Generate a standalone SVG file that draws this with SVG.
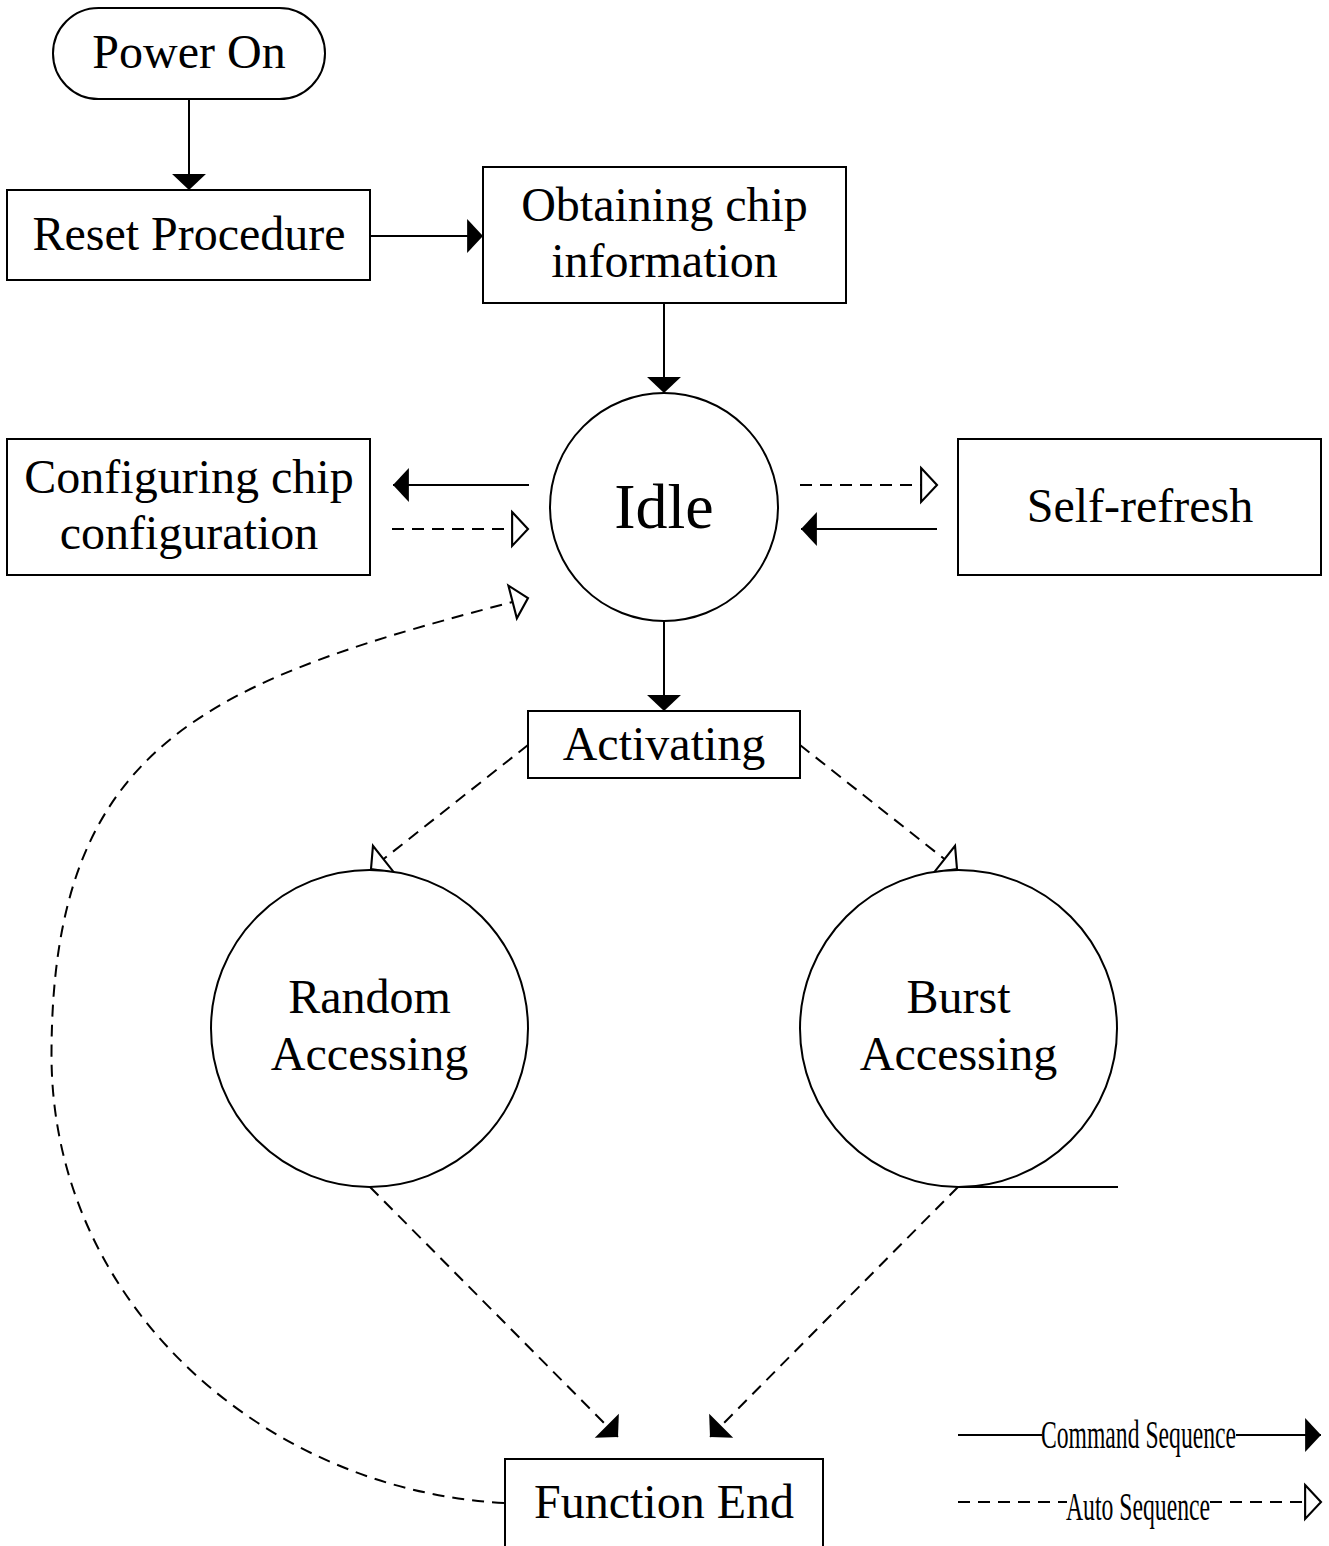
<svg xmlns="http://www.w3.org/2000/svg" width="1329" height="1546" viewBox="0 0 1329 1546">
  <style>
    .box { fill: #fff; stroke: #000; stroke-width: 2; }
    .lbl { font-family: "Liberation Serif", "Times New Roman", serif; font-size: 48px; fill: #000; text-anchor: middle; }
    .big { font-size: 64px; }
    .leg { font-family: "Liberation Serif", "Times New Roman", serif; font-size: 40px; fill: #000; }
    .cmd { fill: none; stroke: #000; stroke-width: 2; marker-end: url(#cmdHead); }
    .auto { fill: none; stroke: #000; stroke-width: 2; stroke-dasharray: 12 8; marker-end: url(#autoHead); }
    .autoCmd { fill: none; stroke: #000; stroke-width: 2; stroke-dasharray: 12 8; marker-end: url(#cmdHead); }
    .plain { fill: none; stroke: #000; stroke-width: 2; }
    .dash { fill: none; stroke: #000; stroke-width: 2; stroke-dasharray: 12 8; }
  </style>
  <defs>
    <!-- filled head: command sequence -->
    <marker id="cmdHead" markerUnits="userSpaceOnUse" markerWidth="20" markerHeight="36" viewBox="-1 -17 18 34" refX="15" refY="0" orient="auto" overflow="visible">
      <path d="M0,-16 L15,0 L0,16 Z" fill="#000" stroke="none"/>
    </marker>
    <!-- hollow head: auto sequence -->
    <marker id="autoHead" markerUnits="userSpaceOnUse" markerWidth="20" markerHeight="36" viewBox="-1 -17 18 34" refX="15" refY="0" orient="auto" overflow="visible">
      <path d="M0,-16 L15,0 L0,16 Z" fill="#fff" stroke="#000" stroke-width="2" stroke-dasharray="none"/>
    </marker>
  </defs>

  <rect width="1329" height="1546" fill="#fff"/>

  <g id="connectors">
    <line class="cmd" x1="189" y1="99" x2="189" y2="190"/>
    <line class="cmd" x1="370" y1="236" x2="483" y2="236"/>
    <line class="cmd" x1="664" y1="303" x2="664" y2="393"/>
    <line class="cmd" x1="529" y1="485" x2="393" y2="485"/>
    <line class="auto" x1="392" y1="529" x2="528" y2="529"/>
    <line class="auto" x1="800" y1="485" x2="937" y2="485"/>
    <line class="cmd" x1="937" y1="529" x2="801" y2="529"/>
    <line class="cmd" x1="664" y1="621" x2="664" y2="711"/>
    <line class="auto" x1="528" y1="745" x2="371" y2="869"/>
    <line class="auto" x1="800" y1="745" x2="957" y2="869"/>
    <line class="autoCmd" x1="370" y1="1187" x2="618" y2="1437"/>
    <line class="autoCmd" x1="958" y1="1187" x2="710" y2="1437"/>
    <path class="auto" d="M504,1503 C262,1490 51.5,1302 51.5,1055 C51.5,740 210,680 528,598"/>
  </g>

  <g id="power-on">
    <rect class="box" x="53" y="8" width="272" height="91" rx="45.5" ry="45.5"/>
    <text class="lbl" x="189" y="68">Power On</text>
  </g>
  <g id="reset-procedure">
    <rect class="box" x="7" y="190" width="363" height="90"/>
    <text class="lbl" x="189" y="250">Reset Procedure</text>
  </g>
  <g id="obtaining-chip-information">
    <rect class="box" x="483" y="167" width="363" height="136"/>
    <text class="lbl" x="664.5" y="221">Obtaining chip</text>
    <text class="lbl" x="664.5" y="277">information</text>
  </g>
  <g id="configuring-chip-configuration">
    <rect class="box" x="7" y="439" width="363" height="136"/>
    <text class="lbl" x="189" y="493">Configuring chip</text>
    <text class="lbl" x="189" y="549">configuration</text>
  </g>
  <g id="idle">
    <circle class="box" cx="664" cy="507" r="114"/>
    <text class="lbl big" x="664" y="528">Idle</text>
  </g>
  <g id="self-refresh">
    <rect class="box" x="958" y="439" width="363" height="136"/>
    <text class="lbl" x="1140" y="522">Self-refresh</text>
  </g>
  <g id="activating">
    <rect class="box" x="528" y="711" width="272" height="67"/>
    <text class="lbl" x="664" y="760">Activating</text>
  </g>
  <g id="random-accessing">
    <circle class="box" cx="369.5" cy="1028.5" r="158.5"/>
    <text class="lbl" x="369.5" y="1013">Random</text>
    <text class="lbl" x="369.5" y="1070">Accessing</text>
  </g>
  <g id="burst-accessing">
    <circle class="box" cx="958.5" cy="1028.5" r="158.5"/>
    <line class="plain" x1="958" y1="1187" x2="1118" y2="1187"/>
    <text class="lbl" x="958.5" y="1013">Burst</text>
    <text class="lbl" x="958.5" y="1070">Accessing</text>
  </g>
  <g id="function-end">
    <rect class="box" x="505" y="1459" width="318" height="110"/>
    <text class="lbl" x="664" y="1518">Function End</text>
  </g>

  <g id="legend">
    <line class="plain" x1="958" y1="1435" x2="1042" y2="1435"/>
    <line class="cmd" x1="1236" y1="1435" x2="1321" y2="1435"/>
    <text class="leg" x="1041" y="1448" textLength="195" lengthAdjust="spacingAndGlyphs">Command Sequence</text>
    <line class="dash" x1="958" y1="1502" x2="1067" y2="1502"/>
    <line class="auto" x1="1210" y1="1502" x2="1321" y2="1502"/>
    <text class="leg" x="1066" y="1520" textLength="144" lengthAdjust="spacingAndGlyphs">Auto Sequence</text>
  </g>
</svg>
